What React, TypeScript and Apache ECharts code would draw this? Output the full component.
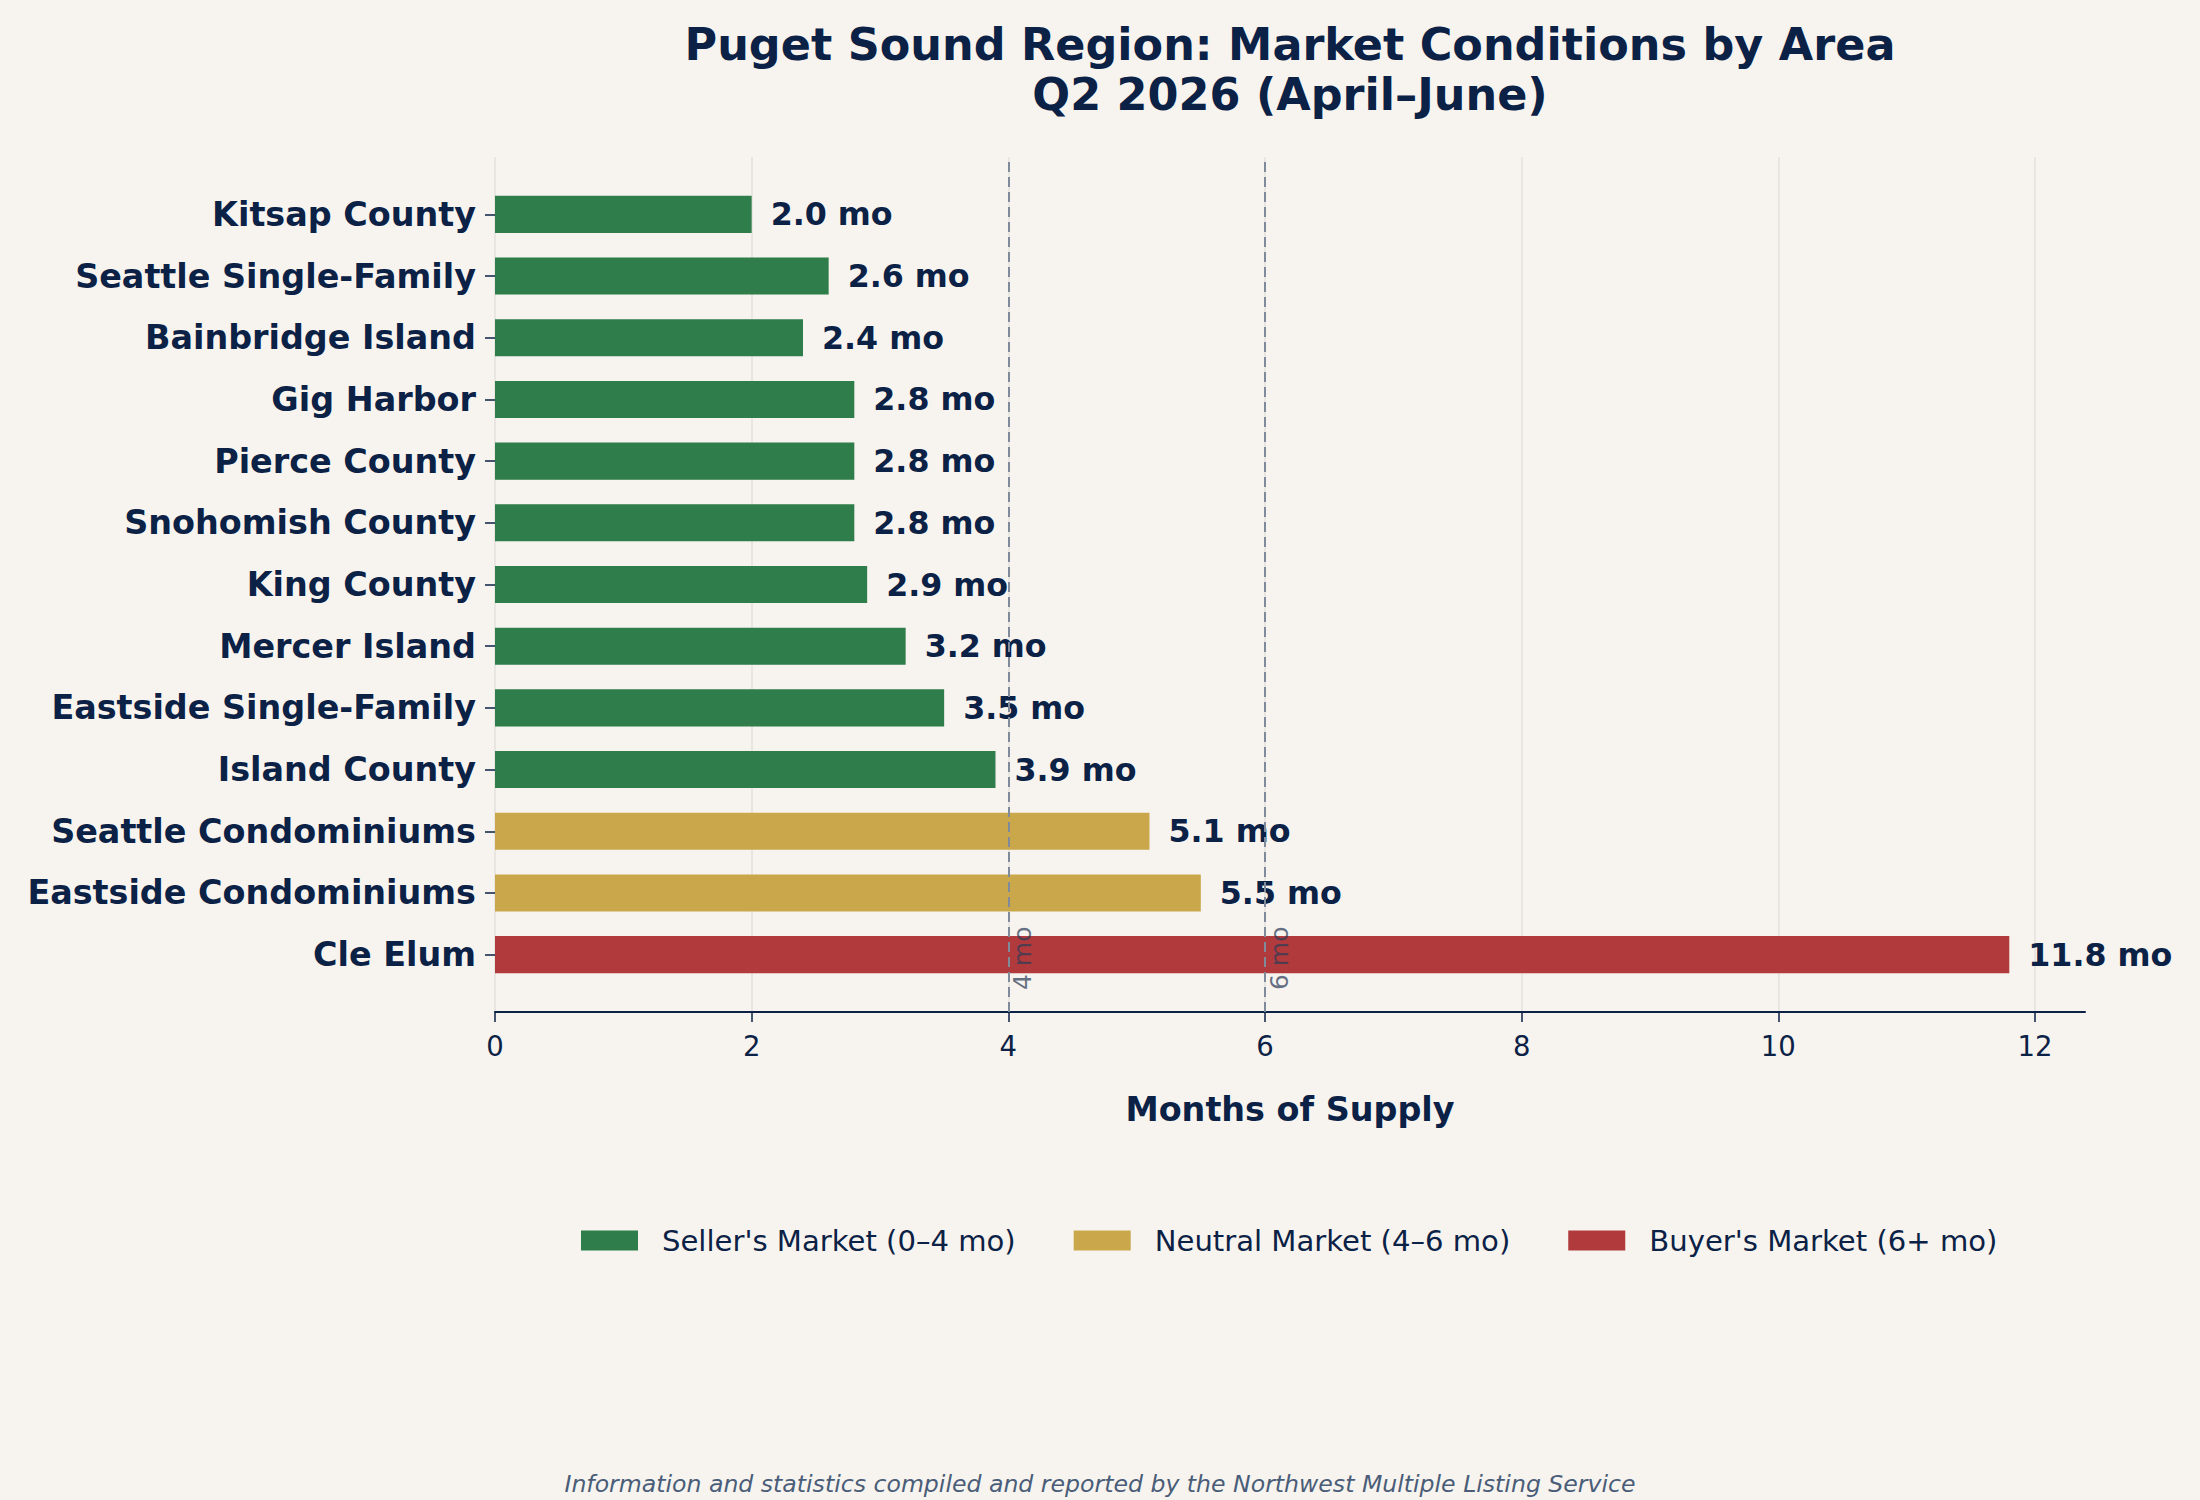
import React, { useEffect, useRef } from 'react';
import * as echarts from 'echarts';

// ---- data ----
const areas = [
  'Kitsap County',
  'Seattle Single-Family',
  'Bainbridge Island',
  'Gig Harbor',
  'Pierce County',
  'Snohomish County',
  'King County',
  'Mercer Island',
  'Eastside Single-Family',
  'Island County',
  'Seattle Condominiums',
  'Eastside Condominiums',
  'Cle Elum',
];
const monthsOfSupply = [2.0, 2.6, 2.4, 2.8, 2.8, 2.8, 2.9, 3.2, 3.5, 3.9, 5.1, 5.5, 11.8];
const marketThresholds = [4, 6];
const thresholdLabels = ['4 mo', '6 mo'];
const marketNames = ["Seller's Market (0–4 mo)", 'Neutral Market (4–6 mo)', "Buyer's Market (6+ mo)"];
const xTickMax = 12;
const xTickStep = 2;
const xAxisMax = 12.39;

// ---- style ----
const FONT = 'DejaVu Sans';
const NAVY = '#0b2145';
const BG = '#f7f4ef';
const marketColors = ['#2e7d4a', '#c9a74a', '#b03a3c'];

const W = 2200;
const H = 1500;
const PLOT_LEFT = 495;
const PLOT_RIGHT = 2085;
const PLOT_TOP = 157;
const PLOT_BOTTOM = 1012;

function marketIndex(v: number) {
  if (v < marketThresholds[0]) return 0;
  if (v < marketThresholds[1]) return 1;
  return 2;
}

export default function App() {
  const ref = useRef<HTMLDivElement>(null);

  useEffect(() => {
    document.body.style.margin = '0';
    const chart = echarts.init(ref.current!, null, { renderer: 'svg' });

    const unitPx = (PLOT_RIGHT - PLOT_LEFT) / xAxisMax;
    const gridBRight = W - (PLOT_LEFT + xTickMax * unitPx);
    // matplotlib-like category layout (bar height 0.6, 5% margins)
    const n = areas.length;
    const span = n - 1 + 0.6;
    const ylo = -0.3 - 0.05 * span;
    const ySpan = span * 1.1;
    const bandPx = (PLOT_BOTTOM - PLOT_TOP) / ySpan;
    const gridATop = PLOT_TOP + (-0.5 - ylo) * bandPx;
    const gridAHeight = n * bandPx;
    const axisOffset = PLOT_BOTTOM - (gridATop + gridAHeight);

    const seriesData = marketNames.map((_, k) =>
      monthsOfSupply.map((v) => (marketIndex(v) === k ? v : '-'))
    );

    const option: any = {
      animation: false,
      backgroundColor: BG,
      textStyle: { fontFamily: FONT },
      grid: [
        { left: PLOT_LEFT, right: W - PLOT_RIGHT, top: gridATop, height: gridAHeight, containLabel: false },
        { left: PLOT_LEFT, right: gridBRight, top: PLOT_TOP, height: PLOT_BOTTOM - PLOT_TOP, containLabel: false },
      ],
      xAxis: [
        {
          gridIndex: 0,
          type: 'value',
          min: 0,
          max: xAxisMax,
          offset: axisOffset,
          axisLine: { show: true, lineStyle: { color: NAVY, width: 2 } },
          axisTick: { show: false },
          axisLabel: { show: false },
          splitLine: { show: false },
          name: 'Months of Supply',
          nameLocation: 'middle',
          nameGap: 81,
          nameTextStyle: { color: NAVY, fontSize: 33.4, fontWeight: 'bold', fontFamily: FONT },
        },
        {
          gridIndex: 1,
          type: 'value',
          min: 0,
          max: xTickMax,
          interval: xTickStep,
          axisLine: { show: false },
          axisTick: { show: true, length: 10, lineStyle: { color: NAVY, width: 1.5 } },
          axisLabel: { show: true, color: NAVY, fontSize: 27.5, fontFamily: FONT, margin: 20 },
          splitLine: { show: true, lineStyle: { color: '#e4e1dc', width: 1.5 } },
        },
      ],
      yAxis: [
        {
          gridIndex: 0,
          type: 'category',
          data: areas,
          inverse: true,
          axisLine: { show: false },
          axisTick: { show: true, alignWithLabel: true, length: 10, lineStyle: { color: NAVY, width: 1.5 } },
          axisLabel: { color: NAVY, fontSize: 33.4, fontWeight: 'bold', fontFamily: FONT, margin: 19 },
          splitLine: { show: false },
        },
        {
          gridIndex: 1,
          type: 'value',
          min: 0,
          max: 1,
          show: false,
        },
      ],
      legend: {
        data: marketNames,
        left: 576,
        top: 1221,
        icon: 'rect',
        itemWidth: 57,
        itemHeight: 20,
        itemGap: 58,
        textStyle: { color: NAVY, fontSize: 29.1, fontFamily: FONT, padding: [0, 0, 0, 19] },
      },
      series: [
        ...marketNames.map((name, k) => ({
          name,
          type: 'bar',
          stack: 'market',
          xAxisIndex: 0,
          yAxisIndex: 0,
          barWidth: '60%',
          data: seriesData[k],
          itemStyle: { color: marketColors[k] },
          label: {
            show: true,
            position: 'right',
            distance: 19,
            color: NAVY,
            fontSize: 31.7,
            fontWeight: 'bold',
            fontFamily: FONT,
            formatter: (p: any) => `${Number(p.value).toFixed(1)} mo`,
          },
        })),
        {
          name: 'thresholds',
          type: 'line',
          xAxisIndex: 1,
          yAxisIndex: 1,
          data: [],
          silent: true,
          markLine: {
            silent: true,
            symbol: ['none', 'none'],
            lineStyle: { color: '#7f8a9a', width: 2, type: [10, 5] },
            label: {
              show: true,
              position: 'insideStartBottom',
              distance: [22, 2],
              color: 'rgba(45,60,88,0.72)',
              fontSize: 25,
              fontFamily: FONT,
              formatter: (p: any) => thresholdLabels[p.dataIndex],
            },
            data: marketThresholds.map((t) => ({ xAxis: t })),
          },
        },
      ],
      graphic: [
        {
          type: 'text',
          x: (PLOT_LEFT + PLOT_RIGHT) / 2,
          y: 19,
          style: {
            text: 'Puget Sound Region: Market Conditions by Area\nQ2 2026 (April–June)',
            textAlign: 'center',
            textVerticalAlign: 'top',
            fill: NAVY,
            font: `bold 44.5px "${FONT}"`,
            lineHeight: 50,
          },
        },
        {
          type: 'text',
          x: W / 2,
          y: 1484,
          style: {
            text: 'Information and statistics compiled and reported by the Northwest Multiple Listing Service',
            textAlign: 'center',
            textVerticalAlign: 'middle',
            fill: '#4a5d78',
            font: `italic 23.6px "${FONT}"`,
          },
        },
      ],
    };

    chart.setOption(option);
    return () => chart.dispose();
  }, []);

  return <div ref={ref} style={{ width: W, height: H }} />;
}
